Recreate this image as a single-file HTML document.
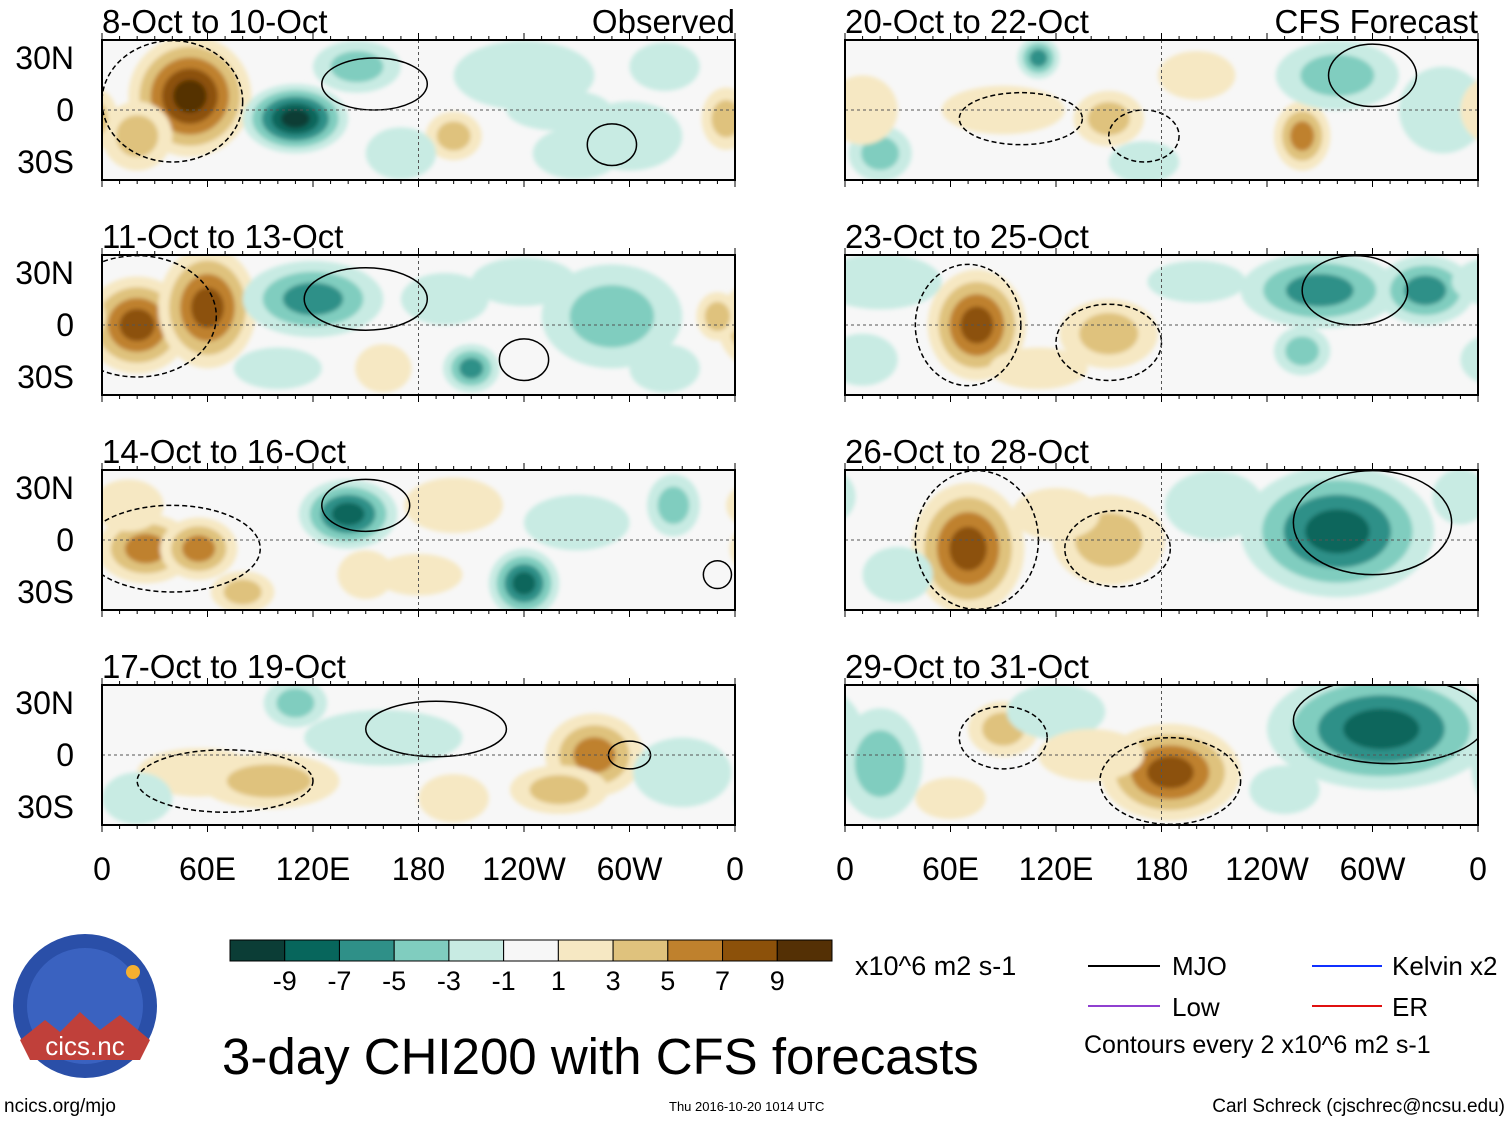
<!DOCTYPE html>
<html><head><meta charset="utf-8">
<style>
body{margin:0;background:#fff;}
svg text{font-family:"Liberation Sans",Arial,sans-serif;}
</style></head>
<body>
<svg id="chart" width="1510" height="1121" viewBox="0 0 1510 1121" xmlns="http://www.w3.org/2000/svg">
<defs><filter id="bl" x="-20%" y="-20%" width="140%" height="140%"><feGaussianBlur stdDeviation="2"/></filter></defs>
<g id="panels"></g>
<g id="colorbar"></g>
<text x="855" y="975" font-size="27">x10^6 m2 s-1</text>
<g>
<line x1="1088" y1="966" x2="1160" y2="966" stroke="#000" stroke-width="2"/><text x="1172" y="975" font-size="26">MJO</text>
<line x1="1088" y1="1006" x2="1160" y2="1006" stroke="#9040d0" stroke-width="2"/><text x="1172" y="1016" font-size="26">Low</text>
<line x1="1312" y1="966" x2="1382" y2="966" stroke="#1030ff" stroke-width="2"/><text x="1392" y="975" font-size="26">Kelvin x2</text>
<line x1="1312" y1="1006" x2="1382" y2="1006" stroke="#e01010" stroke-width="2"/><text x="1392" y="1016" font-size="26">ER</text>
<text x="1084" y="1053" font-size="25">Contours every 2 x10^6 m2 s-1</text>
</g>
<text x="222" y="1074" font-size="51">3-day CHI200 with CFS forecasts</text>
<text x="4" y="1112" font-size="19">ncics.org/mjo</text>
<text x="669" y="1111" font-size="13">Thu 2016-10-20 1014 UTC</text>
<text x="1505" y="1112" font-size="19" text-anchor="end">Carl Schreck (cjschrec@ncsu.edu)</text>
<g>
<circle cx="85" cy="1006" r="72" fill="#2a4fa8"/>
<circle cx="85" cy="1006" r="58" fill="#3a62c0"/>
<path d="M20,1040 L45,1020 L60,1032 L80,1012 L100,1030 L120,1015 L150,1040 L140,1060 L30,1060Z" fill="#c0403a"/>
<circle cx="133" cy="972" r="7" fill="#f5b030"/>
<text x="85" y="1055" font-size="26" fill="#fff" text-anchor="middle">cics.nc</text>
</g>
</svg>
<script>
const colors=['#0b3d36','#07665c','#2f9088','#80cdbf','#c8ebe3','#f7f7f7','#f6e8c3','#dfc27d','#bf812d','#8c510a','#543005'];
const cbLabels=['-9','-7','-5','-3','-1','1','3','5','7','9'];
const panelTitles=['8-Oct to 10-Oct','11-Oct to 13-Oct','14-Oct to 16-Oct','17-Oct to 19-Oct','20-Oct to 22-Oct','23-Oct to 25-Oct','26-Oct to 28-Oct','29-Oct to 31-Oct'];
const lonTicks=['0','60E','120E','180','120W','60W','0'];
const latTicks=['30N','0','30S'];
// blobs: [lon, lat, rxDeg, ryDeg, value]
const blobs0=[[50,8,35,35,10],[20,-15,20,20,5],[355,-5,14,18,4],[110,-5,30,20,-10],[145,25,25,15,-4],[200,-15,16,14,4],[240,20,40,20,-3],[300,-15,30,20,-3],[270,-25,25,15,-3],[320,25,20,14,-3],[170,-25,20,15,-3],[260,0,30,12,-2]];
const blobs1=[[20,0,30,28,8],[60,10,28,35,8],[120,15,40,22,-7],[350,5,12,14,4],[210,-25,16,14,-6],[290,5,40,30,-5],[240,25,30,14,-3],[160,-25,16,14,3],[320,-25,20,14,-3],[195,15,25,15,-3],[100,-25,25,12,-3]];
const blobs2=[[25,-5,28,20,7],[55,-5,22,18,6],[140,15,28,20,-8],[150,-20,16,14,3],[240,-25,20,20,-9],[325,20,15,18,-5],[200,20,28,16,3],[270,10,30,16,-3],[80,-30,18,12,4],[15,20,20,15,3],[180,-20,25,12,3]];
const blobs3=[[55,-10,35,14,3],[95,-15,40,16,5],[280,0,28,24,6],[260,-20,28,14,4],[110,30,18,14,-5],[160,10,45,16,-3],[330,-10,28,20,-3],[200,-25,20,14,3],[20,-25,20,15,-3]];
const blobs4=[[90,0,35,14,3],[150,-5,20,16,4],[110,30,12,12,-6],[260,-15,16,20,7],[280,20,35,20,-5],[20,-25,18,16,-4],[340,0,25,25,-3],[200,20,22,14,3],[170,-30,20,12,-3],[10,0,20,20,3]];
const blobs5=[[75,0,28,32,9],[150,-5,28,20,5],[270,20,45,22,-6],[330,20,28,20,-6],[260,-15,16,14,-4],[20,25,35,16,-3],[110,-25,28,12,3],[200,25,28,12,-2],[10,-20,20,15,-3]];
const blobs6=[[70,-5,32,38,8],[150,0,32,26,5],[280,5,55,38,-8],[210,20,28,20,-3],[30,-20,20,16,-3],[350,25,16,16,-3],[120,15,25,15,3]];
const blobs7=[[90,15,20,16,5],[185,-10,40,28,9],[305,15,65,35,-8],[20,-5,24,32,-4],[120,25,28,16,-3],[250,-20,20,14,-3],[60,-25,20,12,2],[140,0,30,15,3]];
const panelBlobs=[blobs0,blobs1,blobs2,blobs3,blobs4,blobs5,blobs6,blobs7];
// MJO contour rings: [lon, lat, rxDeg, ryDeg]
const contours=[[[40,5,40,35],[155,15,30,15],[290,-20,14,12]],[[20,5,45,35],[150,15,35,18],[240,-20,14,12]],[[40,-5,50,25],[150,20,25,15],[350,-20,8,8]],[[70,-15,50,18],[190,15,40,16],[300,0,12,8]],[[100,-5,35,15],[170,-15,20,15],[300,20,25,18]],[[70,0,30,35],[150,-10,30,22],[290,20,30,20]],[[75,0,35,40],[155,-5,30,22],[300,10,45,30]],[[90,10,25,18],[185,-15,40,25],[310,20,55,25]]];
const NS='http://www.w3.org/2000/svg';
const PW=633,PH=140;
const panelX=[102,102,102,102,845,845,845,845];
const panelY=[40,255,470,685,40,255,470,685];
function mk(t,a,p){const e=document.createElementNS(NS,t);for(const k in a)e.setAttribute(k,a[k]);p.appendChild(e);return e;}
function colorFor(level){return colors[5+level];}
const root=document.getElementById('panels');
panelTitles.forEach((title,i)=>{
  const x0=panelX[i],y0=panelY[i];
  const xs=lon=>x0+lon/360*PW, ys=lat=>y0+70-lat/30*52;
  const g=mk('g',{},root);
  
  
  const cpp=mk('clipPath',{id:'c'+i},g);
  mk('rect',{x:x0,y:y0,width:PW,height:PH},cpp);
  const fill=mk('g',{'clip-path':'url(#c'+i+')'},g);
  mk('rect',{x:x0,y:y0,width:PW,height:PH,fill:'#f7f7f7'},fill);
  const fg=mk('g',{filter:'url(#bl)'},fill);
  panelBlobs[i].forEach(b=>{
    const [lon,lat,rx,ry,v]=b;const n=Math.min(5,Math.ceil((Math.abs(v)-1)/2));const s=Math.sign(v);
    for(let k=1;k<=n;k++){
      const f=1-(k-1)/(n+0.5);
      [0,360,-360].forEach(off=>{
        mk('ellipse',{cx:xs(lon+off),cy:ys(lat),rx:rx/360*PW*f,ry:ry/30*52*f,fill:colorFor(s*k)},fg);
      });
    }
  });
  contours[i].forEach((c,k)=>{
    const e=mk('ellipse',{cx:xs(c[0]),cy:ys(c[1]),rx:c[2]/360*PW,ry:c[3]/30*52,fill:'none',stroke:'#000','stroke-width':1.5,'stroke-dasharray':k==0&&i<4||i>=4&&k<2?'5,3':'none'},fill);
    
    
  });
  mk('line',{x1:x0,y1:ys(0),x2:x0+PW,y2:ys(0),stroke:'#555','stroke-dasharray':'3,3','stroke-width':1},g);
  mk('line',{x1:xs(180),y1:y0,x2:xs(180),y2:y0+PH,stroke:'#555','stroke-dasharray':'3,3','stroke-width':1},g);
  mk('rect',{x:x0,y:y0,width:PW,height:PH,fill:'none',stroke:'#000','stroke-width':2},g);
  for(let l=0;l<=360;l+=10){const L=l%60==0?7:4;mk('line',{x1:xs(l),y1:y0,x2:xs(l),y2:y0-L,stroke:'#000'},g);mk('line',{x1:xs(l),y1:y0+PH,x2:xs(l),y2:y0+PH+L,stroke:'#000'},g);}
  const t=mk('text',{x:x0,y:y0-7,'font-size':33},g);t.textContent=title;
  
  
  if(i<4){latTicks.forEach((lb,k)=>{const tt=mk('text',{x:74,y:ys(30-30*k)+11,'font-size':32,'text-anchor':'end'},g);tt.textContent=lb;});}
  if(i==0||i==4){const h=mk('text',{x:x0+PW,y:y0-7,'font-size':33,'text-anchor':'end'},g);h.textContent=i==0?'Observed':'CFS Forecast';}
  if(i==3||i==7){lonTicks.forEach((lb,k)=>{const tt=mk('text',{x:xs(k*60),y:880,'font-size':32,'text-anchor':'middle'},g);tt.textContent=lb;
    
    });}
});
const cb=document.getElementById('colorbar');
const cbx=230,cbw=602/11;
colors.forEach((c,k)=>{mk('rect',{x:cbx+k*cbw,y:940,width:cbw,height:21,fill:c,stroke:'#000','stroke-width':1},cb);});
cbLabels.forEach((lb,k)=>{const t=mk('text',{x:cbx+(k+1)*cbw,y:990,'font-size':27,'text-anchor':'middle'},cb);t.textContent=lb;});
</script>
</body></html>
